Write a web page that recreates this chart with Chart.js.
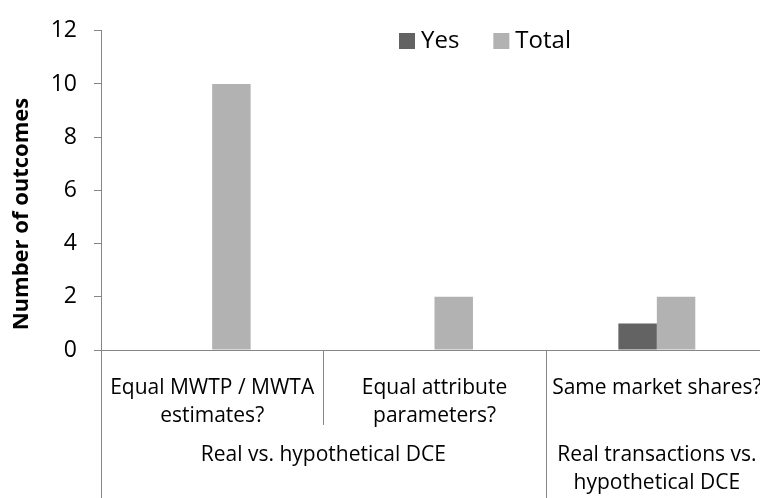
<!DOCTYPE html>
<html>
<head>
<meta charset="utf-8">
<script src="https://cdn.jsdelivr.net/npm/chart.js@4.4.1/dist/chart.umd.min.js"></script>
<style>
  html, body { margin: 0; padding: 0; background: #fff; overflow: hidden; }
  #wrap { width: 770px; height: 498px; }
</style>
</head>
<body>
<div id="wrap"><canvas id="outcomesChart" width="770" height="498"></canvas></div>
<script>
let categories = [['Equal MWTP / MWTA', 'estimates?'], ['Equal attribute', 'parameters?'], ['Same market shares?']];
let groupLabels = [['Real vs. hypothetical DCE'], ['Real transactions vs.', 'hypothetical DCE']];
let groupSpans = [[0, 1], [2, 2]];
let yesValues = [0, 0, 1];
let totalValues = [10, 2, 2];
let seriesNames = ['Yes', 'Total'];
let colors = ['#636363', '#b2b2b2'];
let yTicks = [0, 2, 4, 6, 8, 10, 12];

let fontFamily = "'Open Sans', sans-serif";
let axisGray = '#868686';

// draws the second level of the category axis, the separators, the y title and the legend
let extras = {
  id: 'extras',
  afterDraw(chart) {
    let ctx = chart.ctx;
    let x = chart.scales.x;
    let area = chart.chartArea;
    let half = (x.getPixelForValue(1) - x.getPixelForValue(0)) / 2;
    let bottom = chart.height;

    ctx.save();
    ctx.strokeStyle = axisGray;
    ctx.lineWidth = 1;
    // separators between categories
    for (let i = 0; i <= categories.length; i++) {
      let px = Math.round(x.getPixelForValue(i) - half) + 0.5;
      let isGroupEdge = groupSpans.some(s => s[0] === i || s[1] + 1 === i);
      ctx.beginPath();
      ctx.moveTo(px, area.bottom);
      ctx.lineTo(px, isGroupEdge ? bottom : area.bottom + 75);
      ctx.stroke();
    }

    // group labels
    ctx.fillStyle = '#000';
    ctx.font = '21px ' + fontFamily;
    ctx.textAlign = 'center';
    ctx.textBaseline = 'middle';
    groupSpans.forEach((span, g) => {
      let cx = (x.getPixelForValue(span[0]) + x.getPixelForValue(span[1])) / 2;
      groupLabels[g].forEach((line, k) => {
        ctx.fillText(line, cx, area.bottom + 105 + k * 28);
      });
    });

    // y axis title
    ctx.font = 'bold 22px ' + fontFamily;
    ctx.translate(22, 214);
    ctx.rotate(-Math.PI / 2);
    ctx.fillText('Number of outcomes', 0, 0);
    ctx.setTransform(1, 0, 0, 1, 0, 0);

    // legend
    ctx.font = '24px ' + fontFamily;
    ctx.textAlign = 'left';
    let lx = 399;
    chart.data.datasets.forEach(ds => {
      ctx.fillStyle = ds.backgroundColor;
      ctx.fillRect(lx, 33, 16, 16);
      ctx.fillStyle = '#000';
      ctx.fillText(ds.label, lx + 22, 41);
      lx += 22 + ctx.measureText(ds.label).width + 34;
    });
    ctx.restore();
  }
};

let ctx1 = document.getElementById('outcomesChart').getContext('2d');

let chart = new Chart(ctx1, {
  type: 'bar',
  data: {
    labels: categories,
    datasets: [
      { label: seriesNames[0], data: yesValues, backgroundColor: colors[0] },
      { label: seriesNames[1], data: totalValues, backgroundColor: colors[1] }
    ]
  },
  options: {
    responsive: false,
    animation: false,
    devicePixelRatio: 1,
    categoryPercentage: 0.346,
    barPercentage: 1,
    layout: { padding: { top: 24, right: 2, bottom: 0, left: 0 } },
    plugins: {
      legend: { display: false },
      tooltip: { enabled: false }
    },
    scales: {
      x: {
        grid: { display: false },
        border: { display: true, color: axisGray, width: 1 },
        ticks: {
          color: '#000',
          font: { family: fontFamily, size: 21, lineHeight: 1.33 },
          padding: 16,
          maxRotation: 0,
          autoSkip: false
        },
        afterFit: s => {
          s.height = 148;
          s.paddingLeft = 0;
          s.paddingRight = 0;
        }
      },
      y: {
        min: 0,
        max: 12,
        afterBuildTicks: s => { s.ticks = yTicks.map(v => ({ value: v })); },
        grid: { drawOnChartArea: false, drawTicks: true, tickLength: 7, color: axisGray },
        border: { display: true, color: axisGray, width: 1 },
        ticks: {
          color: '#000',
          font: { family: fontFamily, size: 23 },
          padding: 17
        },
        afterFit: s => { s.width = 101; }
      }
    }
  },
  plugins: [extras]
});
</script>
</body>
</html>
